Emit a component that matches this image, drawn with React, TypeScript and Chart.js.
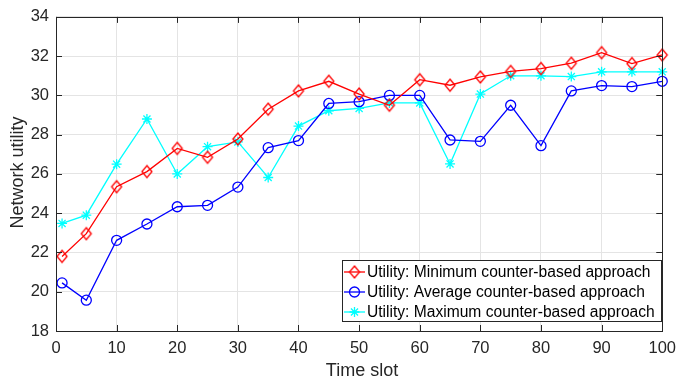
import React, { useEffect, useRef } from 'react';
import { Chart, registerables } from 'chart.js';

Chart.register(...registerables);

const timeSlots = [1, 5, 10, 15, 20, 25, 30, 35, 40, 45, 50, 55, 60, 65, 70, 75, 80, 85, 90, 95, 100];
const minUtility = [21.8, 22.96, 25.35, 26.12, 27.3, 26.85, 27.78, 29.3, 30.23, 30.72, 30.07, 29.5, 30.8, 30.52, 30.94, 31.22, 31.37, 31.64, 32.18, 31.62, 32.06];
const avgUtility = [20.45, 19.57, 22.62, 23.45, 24.33, 24.4, 25.33, 27.34, 27.7, 29.59, 29.68, 30.0, 30.0, 27.73, 27.66, 29.5, 27.44, 30.23, 30.5, 30.45, 30.72];
const maxUtility = [23.48, 23.9, 26.5, 28.8, 26.0, 27.39, 27.63, 25.82, 28.44, 29.22, 29.34, 29.62, 29.62, 26.51, 30.07, 31.0, 31.0, 30.96, 31.2, 31.2, 31.2];
const xTicks = [0, 10, 20, 30, 40, 50, 60, 70, 80, 90, 100];
const yTicks = [18, 20, 22, 24, 26, 28, 30, 32, 34];
const seriesLabels = [
  'Utility: Minimum counter-based approach',
  'Utility: Average counter-based approach',
  'Utility: Maximum counter-based approach',
];
const xTitle = 'Time slot';
const yTitle = 'Network utility';

const RED = '#ff0000';
const BLUE = '#0000ff';
const CYAN = '#00ffff';
const AXIS = '#262626';
const GRID = '#e4e4e4';
const FONT = '"Liberation Sans", Arial, Helvetica, sans-serif';

function makeDiamond(color: string): HTMLCanvasElement {
  const c = document.createElement('canvas');
  c.width = 14;
  c.height = 16;
  const ctx = c.getContext('2d')!;
  ctx.strokeStyle = color;
  ctx.lineWidth = 1.3;
  ctx.beginPath();
  ctx.moveTo(7, 2);
  ctx.lineTo(12, 8);
  ctx.lineTo(7, 14);
  ctx.lineTo(2, 8);
  ctx.closePath();
  ctx.stroke();
  return c;
}

function drawMarker(ctx: CanvasRenderingContext2D, kind: string, x: number, y: number, color: string, diamond: HTMLCanvasElement) {
  ctx.save();
  ctx.strokeStyle = color;
  ctx.lineWidth = 1.3;
  if (kind === 'diamond') {
    ctx.drawImage(diamond, x - diamond.width / 2, y - diamond.height / 2);
  } else if (kind === 'circle') {
    ctx.beginPath();
    ctx.arc(x, y, 5, 0, Math.PI * 2);
    ctx.stroke();
  } else {
    const r = 5;
    ctx.beginPath();
    for (let i = 0; i < 4; i++) {
      const a = (i * Math.PI) / 4;
      ctx.moveTo(x - r * Math.cos(a), y - r * Math.sin(a));
      ctx.lineTo(x + r * Math.cos(a), y + r * Math.sin(a));
    }
    ctx.stroke();
  }
  ctx.restore();
}

export default function App() {
  const ref = useRef<HTMLCanvasElement>(null);

  useEffect(() => {
    const diamond = makeDiamond(RED);
    const markerKinds = ['diamond', 'circle', 'star'];
    const colors = [RED, BLUE, CYAN];

    const decor = {
      id: 'decor',
      afterDraw(chart: any) {
        const ctx: CanvasRenderingContext2D = chart.ctx;
        const a = chart.chartArea;
        const xs = chart.scales.x;
        const ys = chart.scales.y;
        ctx.save();
        // box
        ctx.strokeStyle = AXIS;
        ctx.lineWidth = 1;
        ctx.strokeRect(Math.round(a.left) + 0.5, Math.round(a.top) + 0.5, Math.round(a.right - a.left), Math.round(a.bottom - a.top));
        // inward ticks
        ctx.beginPath();
        const tl = 6;
        for (const v of xTicks) {
          const px = Math.round(xs.getPixelForValue(v)) + 0.5;
          ctx.moveTo(px, a.bottom);
          ctx.lineTo(px, a.bottom - tl);
          ctx.moveTo(px, a.top);
          ctx.lineTo(px, a.top + tl);
        }
        for (const v of yTicks) {
          const py = Math.round(ys.getPixelForValue(v)) + 0.5;
          ctx.moveTo(a.left, py);
          ctx.lineTo(a.left + tl, py);
          ctx.moveTo(a.right, py);
          ctx.lineTo(a.right - tl, py);
        }
        ctx.stroke();
        // titles
        ctx.fillStyle = AXIS;
        ctx.font = `18px ${FONT}`;
        ctx.textAlign = 'center';
        ctx.textBaseline = 'middle';
        ctx.fillText(xTitle, 362, 371);
        ctx.save();
        ctx.translate(18, 172.5);
        ctx.rotate(-Math.PI / 2);
        ctx.fillText(yTitle, 0, 0);
        ctx.restore();
        // legend
        const lx = 342.5, ly = 260.5, lw = 319, lh = 61;
        ctx.fillStyle = '#ffffff';
        ctx.fillRect(lx, ly, lw, lh);
        ctx.strokeStyle = AXIS;
        ctx.lineWidth = 1;
        ctx.strokeRect(lx, ly, lw, lh);
        ctx.font = `15.6px ${FONT}`;
        ctx.textAlign = 'left';
        ctx.textBaseline = 'middle';
        const rows = [272, 292, 312];
        seriesLabels.forEach((label, i) => {
          const y = rows[i];
          ctx.strokeStyle = colors[i];
          ctx.lineWidth = 1.3;
          ctx.beginPath();
          ctx.moveTo(344, y);
          ctx.lineTo(365, y);
          ctx.stroke();
          drawMarker(ctx, markerKinds[i], 354.5, y, colors[i], diamond);
          ctx.fillStyle = '#000000';
          ctx.fillText(label, 367, y + 1);
        });
        ctx.restore();
      },
    };

    const mk = (label: string, data: number[], color: string, style: any, radius: number) => ({
      label,
      data: timeSlots.map((t, i) => ({ x: t, y: data[i] })),
      borderColor: color,
      backgroundColor: 'rgba(0,0,0,0)',
      borderWidth: 1.3,
      pointStyle: style,
      pointRadius: radius,
      pointBorderWidth: 1.3,
      pointBorderColor: color,
      pointBackgroundColor: 'rgba(0,0,0,0)',
      tension: 0,
      fill: false,
      clip: false as any,
    });

    const chart = new Chart(ref.current!, {
      type: 'line',
      data: {
        datasets: [
          mk(seriesLabels[0], minUtility, RED, diamond, 6),
          mk(seriesLabels[1], avgUtility, BLUE, 'circle', 5),
          mk(seriesLabels[2], maxUtility, CYAN, 'star', 5),
        ],
      },
      options: {
        animation: false,
        responsive: false,
        devicePixelRatio: 1,
        layout: { padding: { top: 16, right: 16, left: 0, bottom: 0 } },
        plugins: { legend: { display: false }, tooltip: { enabled: false } },
        scales: {
          x: {
            type: 'linear',
            min: 0,
            max: 100,
            afterBuildTicks: (s: any) => { s.ticks = xTicks.map((v) => ({ value: v })); },
            afterFit: (s: any) => { s.height = 50; },
            grid: { color: GRID, drawTicks: false, lineWidth: 1 },
            border: { display: false },
            ticks: { color: AXIS, font: { family: FONT, size: 16.5 }, padding: 8, maxRotation: 0, autoSkip: false },
          },
          y: {
            type: 'linear',
            min: 18,
            max: 34,
            afterBuildTicks: (s: any) => { s.ticks = yTicks.map((v) => ({ value: v })); },
            afterFit: (s: any) => { s.width = 56; },
            grid: { color: GRID, drawTicks: false, lineWidth: 1 },
            border: { display: false },
            ticks: { color: AXIS, font: { family: FONT, size: 16.5 }, padding: 7, autoSkip: false },
          },
        },
      },
      plugins: [decor],
    });
    return () => chart.destroy();
  }, []);

  return (
    <div style={{ position: 'absolute', left: 0, top: 0, width: 684, height: 381, background: '#ffffff' }}>
      <canvas ref={ref} width={684} height={381} style={{ width: 684, height: 381, display: 'block' }} />
    </div>
  );
}
